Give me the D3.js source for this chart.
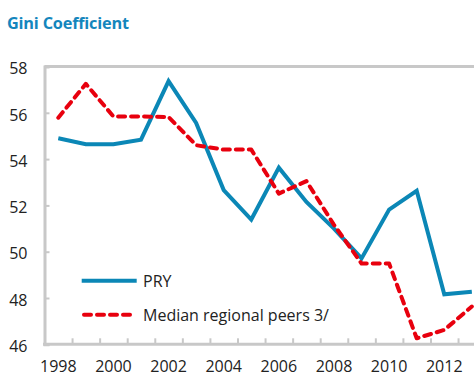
<!DOCTYPE html>
<html>
<head>
<meta charset="utf-8">
<script src="https://cdn.jsdelivr.net/npm/d3@7/dist/d3.min.js"></script>
<style>
  html, body { margin: 0; padding: 0; background: #ffffff; }
  svg { display: block; }
</style>
</head>
<body>
<script>
// Gini coefficient: Paraguay vs. median of regional peers
const years = [1998, 1999, 2000, 2001, 2002, 2003, 2004, 2005, 2006, 2007, 2008, 2009, 2010, 2011, 2012, 2013];
const pryValues = [54.9, 54.64, 54.64, 54.84, 57.37, 55.56, 52.66, 51.39, 53.63, 52.15, 51.0, 49.71, 51.82, 52.63, 48.16, 48.27];
const peerValues = [55.79, 57.25, 55.84, 55.84, 55.82, 54.6, 54.41, 54.41, 52.51, 53.05, 51.16, 49.49, 49.49, 46.26, 46.62, 47.63];
const yTickValues = [46, 48, 50, 52, 54, 56, 58];
const xLabelYears = [1998, 2000, 2002, 2004, 2006, 2008, 2010, 2012];
const seriesNames = ["PRY", "Median regional peers 3/"];

const W = 474, H = 376;
const FONT = "'Open Sans', 'Noto Sans', sans-serif";
const AXIS_GREY = "#c8c8c8";
const BLUE = "#0b87b6";
const RED = "#e8000e";
const TEXT = "#222222";

const plotLeft = 44.5, plotTop = 66.5, plotBottom = 344.3;
const step = 27.57;
const plotRight = plotLeft + step * years.length;

const svg = d3.select("body").append("svg")
  .attr("width", W).attr("height", H)
  .style("font-family", FONT);

// Title
svg.append("text")
  .attr("x", 7).attr("y", 29)
  .attr("fill", "#1486bd")
  .attr("font-weight", "bold")
  .attr("font-size", 16.3)
  .attr("letter-spacing", "-0.2px")
  .text("Gini Coefficient");

const x = d3.scaleBand().domain(years).range([plotLeft, plotRight]).padding(0);
const xEdge = d3.scaleLinear().domain([0, years.length]).range([plotLeft, plotRight]);
const y = d3.scaleLinear().domain([46, 58]).range([plotBottom, plotTop]);
const cx = d => x(d) + x.bandwidth() / 2;

// Plot frame: top border
svg.append("line")
  .attr("x1", plotLeft).attr("x2", plotRight)
  .attr("y1", plotTop).attr("y2", plotTop)
  .attr("stroke", AXIS_GREY).attr("stroke-width", 3);

// Y axis with inward ticks
const yAxis = svg.append("g")
  .attr("transform", `translate(${plotLeft},0)`)
  .call(d3.axisLeft(y).tickValues(yTickValues).tickSize(-5).tickPadding(17).tickFormat(d3.format("d")));
yAxis.select(".domain").attr("stroke", AXIS_GREY).attr("stroke-width", 3);
yAxis.selectAll(".tick line").attr("stroke", AXIS_GREY).attr("stroke-width", 2);
yAxis.selectAll(".tick text")
  .attr("fill", TEXT).attr("font-size", 16).attr("font-family", FONT)
  .attr("dy", "0.45em");

// X axis: tick marks between categories
const xTicks = svg.append("g")
  .attr("transform", `translate(0,${plotBottom})`)
  .call(d3.axisBottom(xEdge).tickValues(d3.range(1, years.length)).tickSize(-6).tickFormat(""));
xTicks.select(".domain").remove();
xTicks.selectAll(".tick line").attr("stroke", AXIS_GREY).attr("stroke-width", 2);

// X axis: category labels every second year
const xAxis = svg.append("g")
  .attr("transform", `translate(0,${plotBottom})`)
  .call(d3.axisBottom(x).tickValues(xLabelYears).tickSize(0).tickPadding(16));
xAxis.select(".domain").remove();
xAxis.selectAll(".tick text")
  .attr("fill", TEXT).attr("font-size", 16).attr("font-family", FONT);

// Bottom axis line
svg.append("line")
  .attr("x1", plotLeft - 1.5).attr("x2", plotRight)
  .attr("y1", plotBottom).attr("y2", plotBottom)
  .attr("stroke", AXIS_GREY).attr("stroke-width", 3);

const line = d3.line().x(d => cx(d.year)).y(d => y(d.value));
const pryData = years.map((yr, i) => ({ year: yr, value: pryValues[i] }));
const peerData = years.map((yr, i) => ({ year: yr, value: peerValues[i] }));

svg.append("path")
  .datum(pryData)
  .attr("d", line)
  .attr("fill", "none")
  .attr("stroke", BLUE)
  .attr("stroke-width", 4)
  .attr("stroke-linejoin", "miter");

svg.append("path")
  .datum(peerData)
  .attr("d", line)
  .attr("fill", "none")
  .attr("stroke", RED)
  .attr("stroke-width", 4)
  .attr("stroke-linecap", "round")
  .attr("stroke-dasharray", "7,6")
  .attr("stroke-linejoin", "round");

// Legend
const legend = svg.append("g");
const legendRows = [
  { name: seriesNames[0], color: BLUE, dash: null, y: 280.7 },
  { name: seriesNames[1], color: RED, dash: "7,6", y: 314.7 }
];
legendRows.forEach(r => {
  const ln = legend.append("line")
    .attr("x1", r.dash ? 84 : 81.7).attr("x2", r.dash ? 134.5 : 136.7)
    .attr("y1", r.y).attr("y2", r.y)
    .attr("stroke", r.color).attr("stroke-width", 4);
  if (r.dash) ln.attr("stroke-dasharray", r.dash).attr("stroke-linecap", "round");
  legend.append("text")
    .attr("x", 143).attr("y", r.y + 6.5)
    .attr("fill", TEXT).attr("font-size", 16)
    .text(r.name);
});
</script>
</body>
</html>
